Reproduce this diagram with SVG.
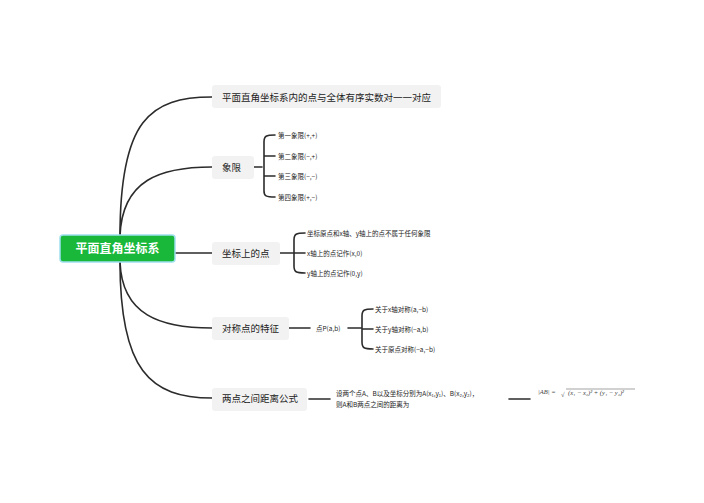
<svg xmlns="http://www.w3.org/2000/svg" width="704" height="503" viewBox="0 0 704 503">
<style>
text{font-family:"Noto Sans CJK SC","Liberation Sans",sans-serif;fill:#222}
.b{fill:#f2f2f2}
.bt{font-size:9.5px}
.l{font-size:6.5px}
.c{fill:none;stroke:#2b2b2b;stroke-width:1.6;stroke-linecap:round}
.f{font-family:"Liberation Serif",serif;font-size:6.5px;font-style:italic;fill:#444}
</style>
<rect width="704" height="503" fill="#fff"/>
<g id="connectors">
<path class="c" d="M120,236 C120,120 150,97 212,97"/>
<path class="c" d="M120,236 C122,180 160,167 212,167"/>
<path class="c" d="M175,253 L212,253"/>
<path class="c" d="M120,262 C122,315 160,328 212,328"/>
<path class="c" d="M120,262 C120,370 150,398 212,398"/>
<path class="c" d="M254,167 H262 M275,135 C266,135 264,136 264,142 V191 C264,196 266,197 275,197 M264,156 H275 M264,176 H275"/>
<path class="c" d="M280,253 H294 M305,233 C296,233 294,234 294,240 V266 C294,272 296,273 305,273 M294,253 H305"/>
<path class="c" d="M289,328 H310 M348,328 H362 M373,309 C364,309 362,310 362,316 V342 C362,348 364,349 373,349 M362,329 H373"/>
<path class="c" d="M309,399 H330 M509,399 H530"/>
</g>
<g id="root"><rect x="60" y="235" width="115" height="27" rx="3" fill="#19b83a" stroke="#9fe0ee" stroke-width="1.5"/><text x="117.5" y="253" text-anchor="middle" font-size="12" font-weight="bold" style="fill:#fff">平面直角坐标系</text></g>
<g id="n1"><rect class="b" x="212" y="85" width="229" height="23" rx="3"/><text class="bt" x="222" y="100.5">平面直角坐标系内的点与全体有序实数对一一对应</text></g>
<g id="n2"><rect class="b" x="212" y="156" width="42" height="23" rx="3"/><text class="bt" x="222" y="171">象限</text>
<text class="l" x="278" y="137.5">第一象限(+,+)</text><text class="l" x="278" y="158.5">第二象限(−,+)</text><text class="l" x="278" y="178.5">第三象限(−,−)</text><text class="l" x="278" y="199.5">第四象限(+,−)</text></g>
<g id="n3"><rect class="b" x="212" y="242" width="68" height="23" rx="3"/><text class="bt" x="222" y="257">坐标上的点</text>
<text class="l" x="307" y="235.5">坐标原点和x轴、y轴上的点不属于任何象限</text><text class="l" x="307" y="255.5">x轴上的点记作(x,0)</text><text class="l" x="307" y="275.5">y轴上的点记作(0,y)</text></g>
<g id="n4"><rect class="b" x="212" y="317" width="77" height="23" rx="3"/><text class="bt" x="222" y="332">对称点的特征</text>
<text class="l" x="316" y="330.5">点P(a,b)</text>
<text class="l" x="375" y="311.5">关于x轴对称(a,−b)</text><text class="l" x="375" y="331.5">关于y轴对称(−a,b)</text><text class="l" x="375" y="351.5">关于原点对称(−a,−b)</text></g>
<g id="n5"><rect class="b" x="212" y="388" width="95" height="23" rx="3"/><text class="bt" x="222" y="402">两点之间距离公式</text>
<text class="l" x="336" y="396">设两个点A、B以及坐标分别为A(x₁,y₁)、B(x₂,y₂)，</text><text class="l" x="336" y="407">则A和B两点之间的距离为</text>
<text class="f" x="538" y="394">|AB| = </text><text class="f" x="561" y="397" font-size="9" font-style="normal">√</text>
<path d="M566,389 H635" stroke="#444" stroke-width="0.5"/>
<text class="f" x="568" y="395">(x₁ − x₂)² + (y₁ − y₂)²</text></g>
</svg>
